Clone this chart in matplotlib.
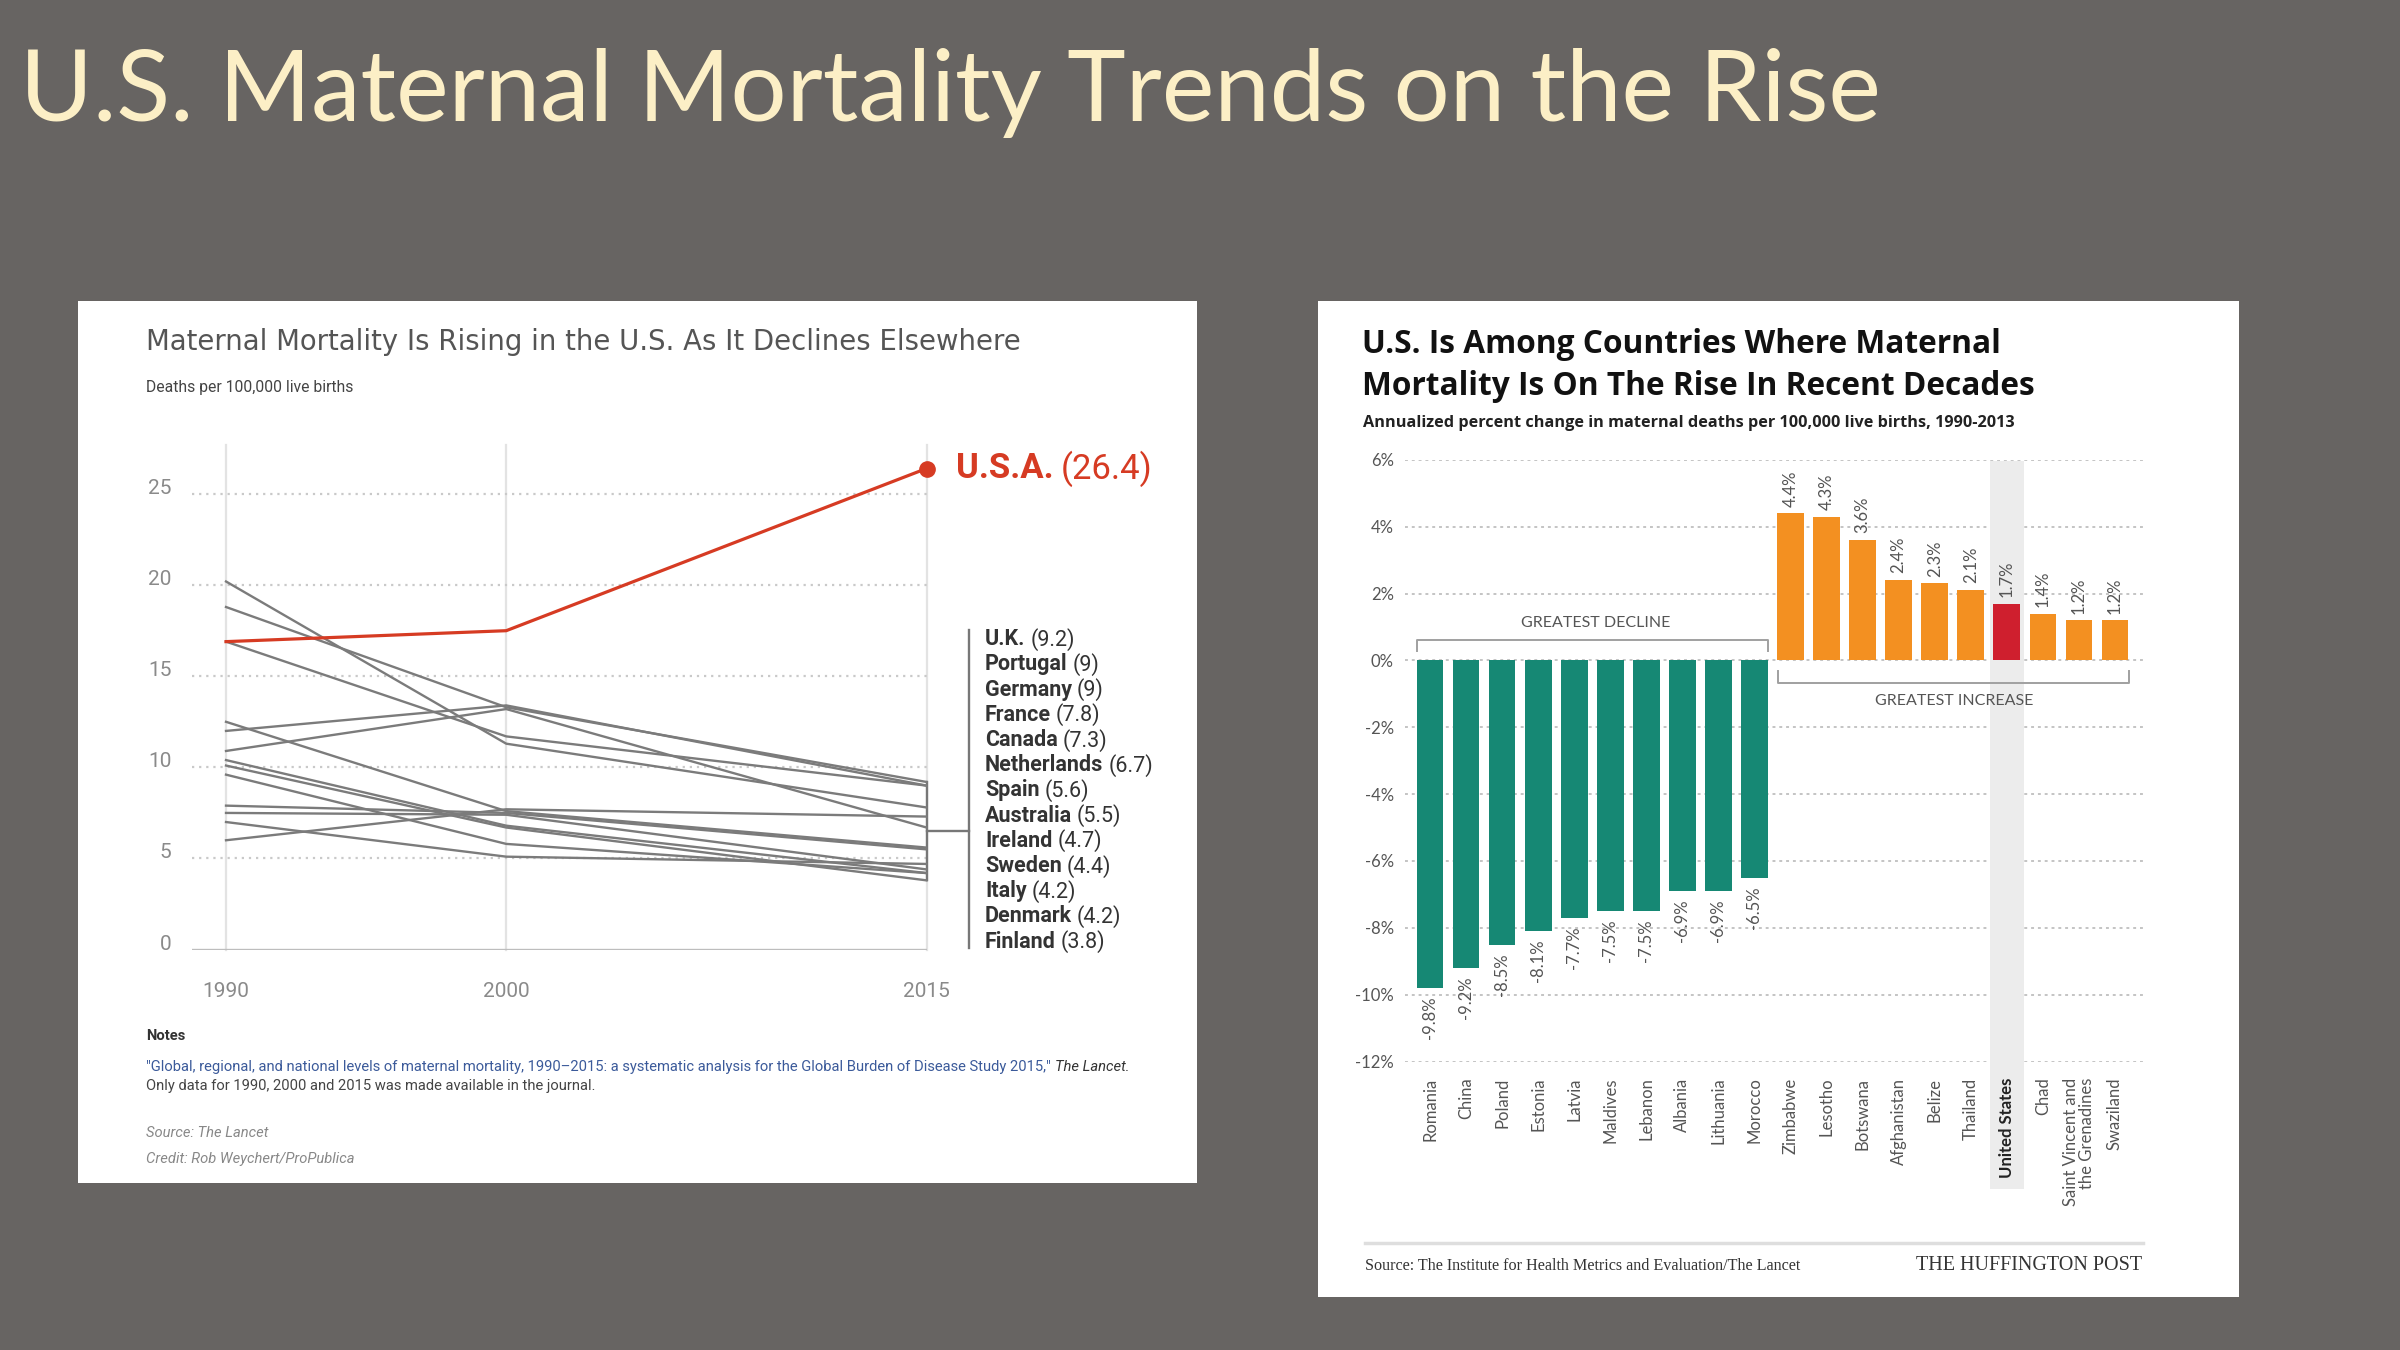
import matplotlib.pyplot as plt
from matplotlib.patches import Rectangle
from matplotlib.lines import Line2D

# ---- data ----
years = [1990, 2000, 2015]
countries = ['U.K.', 'Portugal', 'Germany', 'France', 'Canada', 'Netherlands', 'Spain',
             'Australia', 'Ireland', 'Sweden', 'Italy', 'Denmark', 'Finland']
mm_1990 = [18.8, 12.0, 16.9, 20.2, 6.0, 10.9, 12.5, 7.9, 7.0, 7.5, 10.4, 9.6, 10.1]
mm_2000 = [13.3, 13.4, 11.7, 11.3, 7.7, 13.2, 7.6, 7.5, 5.1, 7.4, 6.8, 5.8, 6.7]
mm_2015 = [9.2, 9, 9, 7.8, 7.3, 6.7, 5.6, 5.5, 4.7, 4.4, 4.2, 4.2, 3.8]
usa = [16.9, 17.5, 26.4]
y_ticks_left = [0, 5, 10, 15, 20, 25]

bar_countries = ['Romania', 'China', 'Poland', 'Estonia', 'Latvia', 'Maldives', 'Lebanon',
                 'Albania', 'Lithuania', 'Morocco', 'Zimbabwe', 'Lesotho', 'Botswana',
                 'Afghanistan', 'Belize', 'Thailand', 'United States', 'Chad',
                 'Saint Vincent and\nthe Grenadines', 'Swaziland']
bar_change = [-9.8, -9.2, -8.5, -8.1, -7.7, -7.5, -7.5, -6.9, -6.9, -6.5,
              4.4, 4.3, 3.6, 2.4, 2.3, 2.1, 1.7, 1.4, 1.2, 1.2]
y_ticks_right = [-12, -10, -8, -6, -4, -2, 0, 2, 4, 6]

W, H = 2400, 1350
def fx(px): return px / W
def fy(py): return 1 - py / H

NARROW = 'Roboto'
RED = '#d63b23'

fig = plt.figure(figsize=(24, 13.5), dpi=100)
fig.patch.set_facecolor('#676462')

fig.text(fx(20), fy(121), 'U.S. Maternal Mortality Trends on the Rise', family='Lato',
         fontsize=71.5, color='#fcefc6', va='baseline')

# white cards
fig.add_artist(Rectangle((fx(78), fy(1183)), (1197 - 78) / W, (1183 - 301) / H,
                         transform=fig.transFigure, fc='white', ec='none', zorder=0))
fig.add_artist(Rectangle((fx(1318), fy(1297)), (2239 - 1318) / W, (1297 - 301) / H,
                         transform=fig.transFigure, fc='white', ec='none', zorder=0))

# ================= left chart =================
fig.text(fx(146), fy(342), 'Maternal Mortality Is Rising in the U.S. As It Declines Elsewhere',
         family='DejaVu Sans', fontsize=19.8, color='#555555', va='center')
fig.text(fx(146), fy(388), 'Deaths per 100,000 live births', family=NARROW,
         fontsize=11.3, color='#444444', va='center')

ax = fig.add_axes([fx(192.4), fy(949.6), (926.5 - 192.4) / W, (949.6 - 445) / H])
ax.set_xlim(1988.8, 2015)
ax.set_ylim(0, 27.69)
ax.axis('off')

for yv in y_ticks_left[1:]:
    ax.axhline(yv, color='#c9c9c9', lw=1.6, ls=(0, (1, 2.2)), zorder=1)
ax.axhline(0, color='#bdbdbd', lw=2.4, zorder=1)
for yr in years:
    ax.axvline(yr, color='#e3e3e3', lw=1.6, zorder=0, clip_on=False)
for yv in y_ticks_left:
    ax.text(1988.05, yv, str(yv), ha='right', va='baseline', family=NARROW,
            fontsize=15, color='#8a8a8a')
for yr in years:
    ax.text(yr, -2.3, str(yr), ha='center', va='center', family=NARROW,
            fontsize=15, color='#8a8a8a', clip_on=False)

for a, b, c in zip(mm_1990, mm_2000, mm_2015):
    ax.plot(years, [a, b, c], color='#7b7b7b', lw=1.7, clip_on=False, zorder=3)
ax.plot(years, usa, color=RED, lw=2.3, clip_on=False, zorder=5)
ax.plot(years[-1], usa[-1], 'o', ms=11, color=RED, clip_on=False, zorder=6)

# bracket + labels
lo, hi = min(mm_2015), max(mm_2015)
mid = (lo + hi) / 2
bx = 2015 + (969.4 - 926.5) / 28.02
ax.plot([2015, 2015], [lo, hi], color='#777777', lw=1.7, clip_on=False)
ax.plot([2015, bx], [mid, mid], color='#777777', lw=1.7, clip_on=False)
ax.plot([bx, bx], [0.09, 17.54], color='#777777', lw=1.7, clip_on=False)

lx = 2015 + (985 - 926.5) / 28.02
name_txt = []
for i, (name, v) in enumerate(zip(countries, mm_2015)):
    yv = 17.03 - i * 1.383
    t = ax.text(lx, yv, name, family=NARROW, fontweight='bold', fontsize=15.5,
                color='#333333', va='center', ha='left', clip_on=False)
    name_txt.append((t, yv, v))
usa_t = ax.text(lx - 1.05, usa[-1], 'U.S.A.', family=NARROW, fontweight='bold',
                fontsize=25, color=RED, va='center', ha='left', clip_on=False)

fig.canvas.draw()
inv = ax.transData.inverted()
for t, yv, v in name_txt:
    bb = t.get_window_extent()
    x1 = inv.transform((bb.x1 + 5, 0))[0]
    ax.text(x1, yv, f'({v:g})', family=NARROW, fontsize=15.5, color='#333333',
            va='center', ha='left', clip_on=False)
bb = usa_t.get_window_extent()
ax.text(inv.transform((bb.x1 + 8, 0))[0], usa[-1], f'({usa[-1]})', family=NARROW,
        fontsize=25, color=RED, va='center', ha='left', clip_on=False)

# notes
fig.text(fx(146), fy(1036), 'Notes', family=NARROW, fontweight='bold', fontsize=10.6,
         color='#333333', va='center')
cite = fig.text(fx(146), fy(1066.7),
                '"Global, regional, and national levels of maternal mortality, 1990\u20132015: '
                'a systematic analysis for the Global Burden of Disease Study 2015,"',
                family=NARROW, fontsize=10.6, color='#3b5a9a', va='center')
fig.canvas.draw()
bb = cite.get_window_extent()
fig.text((bb.x1 + 4) / W, fy(1066.7), 'The Lancet.', family=NARROW, fontstyle='italic',
         fontsize=10.6, color='#333333', va='center')
fig.text(fx(146), fy(1085.7), 'Only data for 1990, 2000 and 2015 was made available in the journal.',
         family=NARROW, fontsize=10.6, color='#444444', va='center')
fig.text(fx(146), fy(1132.7), 'Source: The Lancet', family=NARROW, fontstyle='italic',
         fontsize=10.6, color='#888888', va='center')
fig.text(fx(146), fy(1159.3), 'Credit: Rob Weychert/ProPublica', family=NARROW,
         fontstyle='italic', fontsize=10.6, color='#888888', va='center')

# ================= right chart =================
fig.text(fx(1362), fy(352.7), 'U.S. Is Among Countries Where Maternal', family='Open Sans',
         fontweight='bold', fontsize=22.8, color='#111111', va='baseline')
fig.text(fx(1362), fy(394.6), 'Mortality Is On The Rise In Recent Decades', family='Open Sans',
         fontweight='bold', fontsize=22.8, color='#111111', va='baseline')
fig.text(fx(1363), fy(422.8),
         'Annualized percent change in maternal deaths per 100,000 live births, 1990-2013',
         family='Open Sans', fontweight='bold', fontsize=11.7, color='#222222', va='center')

bax = fig.add_axes([fx(1404.8), fy(1061.5), 739 / W, 601.7 / H])
bax.set_xlim(-0.7, 19.8)
bax.set_ylim(-12, 6)
for s in bax.spines.values():
    s.set_visible(False)
bax.set_facecolor('none')
bax.set_xticks([])
bax.set_yticks(y_ticks_right)
bax.set_yticklabels([f'{t}%' for t in y_ticks_right], family='Lato', fontsize=12,
                    color='#555555')
bax.tick_params(axis='y', length=0, pad=8)
for t in y_ticks_right:
    bax.axhline(t, color='#c4c4c4', lw=1.4, ls=(0, (1.5, 2)), zorder=0)

us_i = bar_countries.index('United States')
bax.add_patch(Rectangle((us_i - 0.47, -15.8), 0.94, 5.95 + 15.8, fc='#ececec', ec='none',
                        zorder=0.5, clip_on=False))
colors = []
for name, v in zip(bar_countries, bar_change):
    if name == 'United States':
        colors.append('#cf1f2e')
    elif v < 0:
        colors.append('#168874')
    else:
        colors.append('#f39021')
xs = list(range(len(bar_countries)))
bax.bar(xs, bar_change, width=0.74, color=colors, zorder=2)

for x, v in zip(xs, bar_change):
    if v < 0:
        bax.text(x, v - 0.26, f'{v:.1f}%', rotation=90, ha='center', va='top',
                 family='Lato', fontsize=12, color='#555555', clip_on=False)
    else:
        bax.text(x, v + 0.2, f'{v:.1f}%', rotation=90, ha='center', va='bottom',
                 family='Lato', fontsize=12, color='#555555', clip_on=False)

for x, name in zip(xs, bar_countries):
    us = name == 'United States'
    bax.text(x, -12.48, name, rotation=90, ha='center', va='top', multialignment='right',
             family='Lato', fontsize=12, fontweight='bold' if us else 'normal',
             color='#222222' if us else '#555555', clip_on=False, linespacing=1.0)

# brackets
gc = '#a0a0a0'
bax.plot([-0.37, -0.37, 9.38, 9.38], [0.27, 0.6, 0.6, 0.27], color=gc, lw=1.4, clip_on=False)
bax.text(4.6, 1.13, 'GREATEST DECLINE', ha='center', va='center', family='Lato',
         fontsize=11.5, color='#555555')
bax.plot([9.65, 9.65, 19.39, 19.39], [-0.33, -0.68, -0.68, -0.33], color=gc, lw=1.4,
         clip_on=False)
bax.text(14.55, -1.23, 'GREATEST INCREASE', ha='center', va='center', family='Lato',
         fontsize=11.5, color='#555555')

# footer
fig.add_artist(Line2D([fx(1365), fx(2143)], [fy(1243), fy(1243)], color='#dedede', lw=2.5))
fig.text(fx(1365), fy(1266), 'Source: The Institute for Health Metrics and Evaluation/The Lancet',
         family='Liberation Serif', fontsize=11.6, color='#333333', va='center')
fig.text(fx(2142), fy(1266), 'THE HUFFINGTON POST', family='Liberation Serif', fontsize=14.5,
         color='#333333', va='center', ha='right')

fig.savefig('out.png', dpi=100, facecolor=fig.get_facecolor())
